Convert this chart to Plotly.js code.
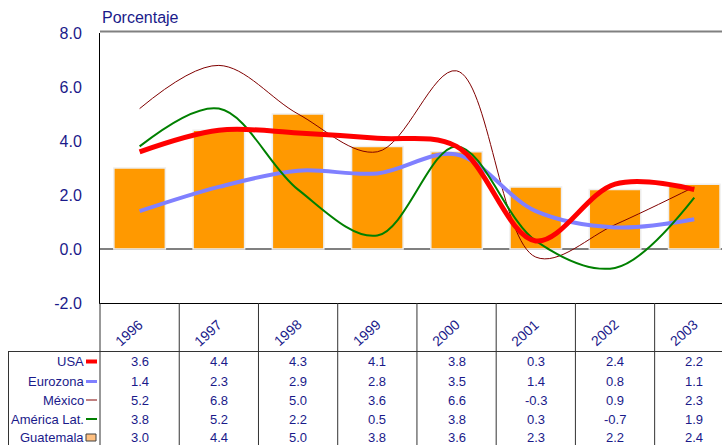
<!DOCTYPE html>
<html>
<head>
<meta charset="utf-8">
<script src="https://cdn.plot.ly/plotly-3.0.1.min.js"></script>
<style>html,body{margin:0;padding:0;background:#fff;}#chart{width:722px;height:445px;}</style>
</head>
<body>
<div id="chart"></div>
<script>
const years = ['1996','1997','1998','1999','2000','2001','2002','2003'];
const usa = [3.6, 4.4, 4.3, 4.1, 3.8, 0.3, 2.4, 2.2];
const eurozona = [1.4, 2.3, 2.9, 2.8, 3.5, 1.4, 0.8, 1.1];
const mexico = [5.2, 6.8, 5.0, 3.6, 6.6, -0.3, 0.9, 2.3];
const americaLat = [3.8, 5.2, 2.2, 0.5, 3.8, 0.3, -0.7, 1.9];
const guatemala = [3.0, 4.4, 5.0, 3.8, 3.6, 2.3, 2.2, 2.4];
const yTicks = [8, 6, 4, 2, 0, -2];
const rowNames = ['USA', 'Eurozona', 'México', 'América Lat.', 'Guatemala'];

const NAVY = '#1a1a8a';
const FONT = 'Liberation Sans, Arial, sans-serif';
// pixel -> paper helpers (plot area: left 100, width 622, top 33, height 270)
const PL = 100, PW = 622, PT = 33, PH = 270;
const px = p => (p - PL) / PW;
const py = p => (PT + PH - p) / PH;
const idx = years.map((_, i) => i);

const lineTrace = (name, y, color, width) => ({
  type: 'scatter', mode: 'lines', name, x: idx, y,
  line: {color, width, shape: 'spline', smoothing: 1},
  cliponaxis: false, hoverinfo: 'skip'
});

const data = [
  {type: 'bar', name: 'Guatemala', x: idx, y: guatemala, width: 0.65,
   marker: {color: '#FF9900', line: {color: '#EEEEEE', width: 1.5}}, hoverinfo: 'skip'},
  lineTrace('México', mexico, '#800000', 1),
  lineTrace('Eurozona', eurozona, '#8080FF', 4),
  lineTrace('América Lat.', americaLat, '#008000', 2),
  lineTrace('USA', usa, '#FF0000', 5)
];

const annotations = [];
const shapes = [];

// title
annotations.push({xref: 'paper', yref: 'paper', x: 0, y: py(18), xanchor: 'left', yanchor: 'middle',
  text: 'Porcentaje', showarrow: false, font: {family: FONT, size: 16, color: NAVY}});

// year labels (rotated) in table header
idx.forEach(i => {
  annotations.push({xref: 'x', yref: 'paper', x: i, xshift: -11, y: py(332.5), xanchor: 'center', yanchor: 'middle',
    text: years[i], textangle: -42, showarrow: false, font: {family: FONT, size: 14, color: NAVY}});
});

// data rows
const rows = [usa, eurozona, mexico, americaLat, guatemala];
const rowY = [361.5, 381.5, 400, 419, 437.5];
rows.forEach((vals, r) => {
  annotations.push({xref: 'paper', yref: 'paper', x: px(86), y: py(rowY[r]), xanchor: 'right', yanchor: 'middle',
    text: rowNames[r], showarrow: false, font: {family: FONT, size: 13, color: NAVY}});
  vals.forEach((v, i) => {
    annotations.push({xref: 'x', yref: 'paper', x: idx[i], y: py(rowY[r]), xanchor: 'center', yanchor: 'middle',
      text: v.toFixed(1), showarrow: false, font: {family: FONT, size: 13, color: NAVY}});
  });
});

// legend keys in table
const keyLine = (r, color, w) => shapes.push({type: 'line', xref: 'paper', yref: 'paper',
  x0: px(86), x1: px(97), y0: py(rowY[r]), y1: py(rowY[r]), line: {color, width: w}});
keyLine(0, '#FF0000', 4);
keyLine(1, '#8080FF', 3);
keyLine(2, '#C08080', 2);
keyLine(3, '#008000', 2);
shapes.push({type: 'rect', xref: 'paper', yref: 'paper', x0: px(86), x1: px(96), y0: py(rowY[4] - 3.5), y1: py(rowY[4] + 3.5),
  fillcolor: '#FFC080', line: {color: '#404040', width: 1}});

// top border
shapes.push({type: 'line', xref: 'paper', yref: 'paper', x0: 0, x1: 1, y0: py(31.5), y1: py(31.5), line: {color: '#808080', width: 2}});
// table grid
for (let i = 0; i < years.length - 1; i++) {
  shapes.push({type: 'line', xref: 'x', yref: 'paper', x0: i + 0.5, x1: i + 0.5, y0: 0, y1: py(445),
    line: {color: '#333333', width: 1}});
}
shapes.push({type: 'line', xref: 'paper', yref: 'paper', x0: 0, x1: 0, y0: 0, y1: py(445), line: {color: '#333333', width: 1}});
shapes.push({type: 'line', xref: 'paper', yref: 'paper', x0: px(8), x1: 1, y0: py(351.5), y1: py(351.5), line: {color: '#333333', width: 1}});
shapes.push({type: 'line', xref: 'paper', yref: 'paper', x0: px(8.5), x1: px(8.5), y0: py(351.5), y1: py(445), line: {color: '#333333', width: 1}});

const layout = {
  width: 722, height: 445,
  margin: {l: PL, r: 0, t: PT, b: 445 - PT - PH, pad: 0},
  paper_bgcolor: '#ffffff', plot_bgcolor: '#ffffff',
  showlegend: false,
  xaxis: {type: 'linear', range: [-0.5, 7.35], showticklabels: false, ticks: '', showgrid: false,
    showline: true, linecolor: '#000000', linewidth: 1, zeroline: false, fixedrange: true},
  yaxis: {range: [-2, 8], tickvals: yTicks, ticktext: yTicks.map(v => v.toFixed(1)), ticks: '',
    showgrid: false, showline: true, linecolor: '#000000', linewidth: 1,
    zeroline: true, zerolinecolor: '#808080', zerolinewidth: 2,
    ticklabelstandoff: 14, tickfont: {family: FONT, size: 16, color: NAVY}, fixedrange: true},
  annotations, shapes,
  font: {family: FONT, color: NAVY}
};

Plotly.newPlot('chart', data, layout, {staticPlot: true, displayModeBar: false});
</script>
</body>
</html>
